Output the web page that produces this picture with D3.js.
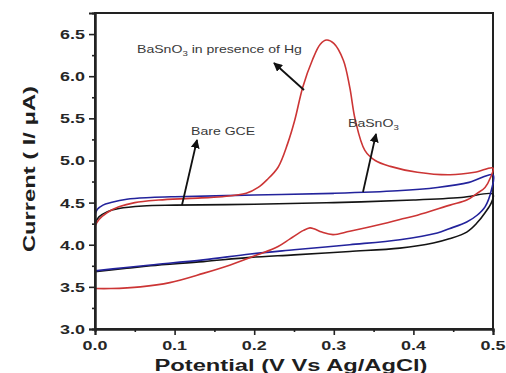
<!DOCTYPE html>
<html><head><meta charset="utf-8">
<script src="https://cdn.jsdelivr.net/npm/d3@7"></script>
<style>body{margin:0;background:#fff}svg{display:block;font-family:"Liberation Sans",Arial,sans-serif}</style>
</head><body><div id="c"></div>
<script>
// ---- data (x: potential V, y: current µA) ----
const xTicks = [0, 0.1, 0.2, 0.3, 0.4, 0.5];
const xMinor = [0.05, 0.15, 0.25, 0.35, 0.45];
const yTicks = [3.0, 3.5, 4.0, 4.5, 5.0, 5.5, 6.0, 6.5];
const yMinor = [3.25, 3.75, 4.25, 4.75, 5.25, 5.75, 6.25, 6.75];

const bareGCE = [[0,4.25],[0.005,4.33],[0.015,4.39],[0.03,4.43],[0.06,4.46],[0.1,4.47],[0.2,4.48],[0.3,4.50],[0.4,4.53],[0.46,4.56],[0.5,4.6],
  [0.498,4.5],[0.49,4.38],[0.48,4.26],[0.467,4.15],[0.445,4.07],[0.425,4.02],[0.383,3.96],[0.32,3.92],[0.25,3.88],[0.195,3.85],[0.136,3.8],[0.07,3.75],[0.04,3.72],[0,3.68]];
const basno3 = [[0,4.36],[0.003,4.42],[0.01,4.47],[0.02,4.5],[0.04,4.54],[0.07,4.56],[0.1,4.57],[0.2,4.59],[0.3,4.61],[0.38,4.64],[0.43,4.68],[0.47,4.74],[0.5,4.83],
  [0.498,4.65],[0.49,4.45],[0.48,4.35],[0.467,4.27],[0.445,4.19],[0.43,4.14],[0.383,4.06],[0.32,4.0],[0.25,3.94],[0.195,3.89],[0.136,3.82],[0.07,3.76],[0.039,3.73],[0,3.69]];
const basno3Hg = [[0,4.22],[0.005,4.3],[0.015,4.38],[0.03,4.45],[0.05,4.5],[0.08,4.53],[0.12,4.55],[0.16,4.57],[0.19,4.61],[0.205,4.68],[0.216,4.77],[0.23,4.92],[0.242,5.2],[0.251,5.48],[0.261,5.87],[0.273,6.19],[0.283,6.38],[0.291,6.43],[0.3,6.39],[0.312,6.19],[0.32,5.87],[0.327,5.48],[0.339,5.12],[0.352,5.0],[0.371,4.93],[0.405,4.86],[0.446,4.83],[0.477,4.86],[0.5,4.91],
  [0.497,4.8],[0.49,4.68],[0.48,4.61],[0.467,4.53],[0.446,4.47],[0.405,4.35],[0.383,4.3],[0.362,4.25],[0.32,4.16],[0.299,4.12],[0.285,4.15],[0.275,4.19],[0.27,4.2],[0.262,4.17],[0.245,4.07],[0.23,3.98],[0.204,3.88],[0.17,3.76],[0.136,3.66],[0.094,3.55],[0.057,3.5],[0.02,3.48],[0,3.48]];

const seriesNames = ["Bare GCE", "BaSnO3", "BaSnO3 in presence of Hg"];
const seriesColors = ["#141414", "#23239c", "#cc3535"];

// ---- layout ----
const W = 506, H = 373;
const m = {l:95, t:13, r:13, b:44};
const svg = d3.select("#c").append("svg").attr("width", W).attr("height", H);
const x = d3.scaleLinear().domain([0, 0.5]).range([m.l, W - m.r]);
const y = d3.scaleLinear().domain([3.0, 6.75]).range([H - m.b, m.t]);
const SX = 1.33; // horizontal stretch of the reference text

// frame
svg.append("rect").attr("x", x(0)).attr("y", y(6.75)).attr("width", x(0.5)-x(0)).attr("height", y(3)-y(6.75))
  .attr("fill", "none").attr("stroke", "#222").attr("stroke-width", 2);

// curves
const line = d3.line().x(d => x(d[0])).y(d => y(d[1])).curve(d3.curveCatmullRom.alpha(0.5));
[bareGCE, basno3, basno3Hg].forEach((s, i) => {
  svg.append("path").datum(s).attr("d", line).attr("fill", "none")
    .attr("stroke", seriesColors[i]).attr("stroke-width", 1.6).attr("stroke-linejoin", "round");
});

// axes
const fmt = d3.format(".1f");
const gx = svg.append("g").attr("transform", `translate(0,${y(3)})`)
  .call(d3.axisBottom(x).tickValues(xTicks).tickSize(6).tickFormat(""));
svg.append("g").attr("transform", `translate(0,${y(3)})`)
  .call(d3.axisBottom(x).tickValues(xMinor).tickSize(3).tickFormat(""));
svg.append("g").attr("transform", `translate(${x(0)},0)`)
  .call(d3.axisLeft(y).tickValues(yTicks).tickSize(6).tickFormat(""));
svg.append("g").attr("transform", `translate(${x(0)},0)`)
  .call(d3.axisLeft(y).tickValues(yMinor.filter(v => v < 6.7)).tickSize(3).tickFormat(""));
svg.selectAll(".domain").attr("stroke", "#222").attr("stroke-width", 2);
svg.selectAll(".tick line").attr("stroke", "#222").attr("stroke-width", 1.6);

// tick labels
xTicks.forEach(v => {
  svg.append("text").attr("transform", `translate(${x(v)},${y(3)+21}) scale(${SX},1)`)
    .attr("text-anchor", "middle").attr("font-size", 13.5).attr("font-weight", "bold").attr("fill", "#262626").text(fmt(v));
});
yTicks.forEach(v => {
  svg.append("text").attr("transform", `translate(${x(0)-10},${y(v)+5}) scale(${SX},1)`)
    .attr("text-anchor", "end").attr("font-size", 13.5).attr("font-weight", "bold").attr("fill", "#262626").text(fmt(v));
});

// axis titles
svg.append("text").attr("x", 291).attr("y", 371).attr("text-anchor", "middle")
  .attr("font-size", 16).attr("font-weight", "bold").attr("fill", "#1e1e1e")
  .attr("textLength", 273).attr("lengthAdjust", "spacingAndGlyphs").text("Potential (V Vs Ag/AgCl)");
svg.append("text").attr("transform", "translate(35,169) rotate(-90)").attr("text-anchor", "middle")
  .attr("font-size", 17).attr("font-weight", "bold").attr("fill", "#1e1e1e")
  .attr("textLength", 166).attr("lengthAdjust", "spacingAndGlyphs").text("Current ( I/ \u03BCA)");

// annotations
const defs = svg.append("defs");
defs.append("marker").attr("id", "ah").attr("viewBox", "0 0 10 10").attr("refX", 9).attr("refY", 5)
  .attr("markerWidth", 5).attr("markerHeight", 5).attr("orient", "auto")
  .append("path").attr("d", "M0,0 L10,5 L0,10 Z").attr("fill", "#111");
function arrow(x1, y1, x2, y2) {
  svg.append("line").attr("x1", x1).attr("y1", y1).attr("x2", x2).attr("y2", y2)
    .attr("stroke", "#111").attr("stroke-width", 1.8).attr("marker-end", "url(#ah)");
}
function label(px, py, main, sub, rest) {
  const t = svg.append("text").attr("transform", `translate(${px},${py}) scale(1.28,1)`)
    .attr("font-size", 11).attr("fill", "#3a3a3a");
  t.append("tspan").text(main);
  if (sub) t.append("tspan").attr("font-size", 7.5).attr("dy", 3).text(sub);
  if (rest) t.append("tspan").attr("dy", -3).text(rest);
}
arrow(304, 90, 274, 63);
arrow(182, 205, 197, 140);
arrow(363, 192, 376, 134);
label(137, 53, "BaSnO", "3", " in presence of Hg");
label(191, 135, "Bare GCE");
label(348, 127, "BaSnO", "3");
</script></body></html>
